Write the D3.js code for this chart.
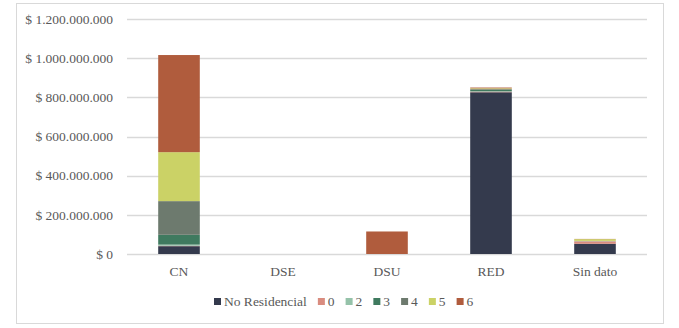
<!doctype html>
<html lang="es">
<head>
    <meta charset="utf-8"/>
    <title>Stacked bars</title>
    <script src="https://d3js.org/d3.v7.min.js"></script>
    <style>
        body { margin: 0; padding: 0; background: #fff; }
    </style>
</head>
<body>
<script>
    // categorias del eje x
    const categories = ['CN', 'DSE', 'DSU', 'RED', 'Sin dato'];
    // series (en millones)
    const seriesNames = ['No Residencial', '0', '2', '3', '4', '5', '6'];
    const noResidencial = [40, 0, 0, 826, 52];
    const s0 = [2, 0, 0, 3, 13];
    const s2 = [6, 0, 0, 2, 2];
    const s3 = [50, 0, 0, 7, 0];
    const s4 = [172, 0, 0, 4, 0];
    const s5 = [250, 0, 0, 4, 9];
    const s6 = [496, 0, 115, 4, 1];
    const colors = ['#343a4d', '#d98c7f', '#95c2a9', '#3f7a5f', '#6d7a6e', '#cbd266', '#b05c3d'];
    const yTicks = [0, 200, 400, 600, 800, 1000, 1200];

    const allSeries = [noResidencial, s0, s2, s3, s4, s5, s6];
    const rows = categories.map(function (c, i) {
        const r = {cat: c};
        seriesNames.forEach(function (k, j) { r[k] = allSeries[j][i]; });
        return r;
    });

    const W = 679, H = 328;
    const m = {left: 127, right: 32, top: 19, bottom: 74};
    const FONT = "'Liberation Serif', serif";

    const svg = d3.select('body').append('svg')
        .attr('width', W).attr('height', H)
        .style('font-family', FONT);

    // borde del grafico
    svg.append('rect')
        .attr('x', 16.5).attr('y', 3.5)
        .attr('width', 647).attr('height', 320)
        .attr('fill', 'none').attr('stroke', '#d9d9d9');

    const x = d3.scaleBand()
        .domain(categories)
        .range([m.left, W - m.right])
        .paddingInner(0.6).paddingOuter(0.3);

    const y = d3.scaleLinear()
        .domain([0, 1200])
        .range([H - m.bottom, m.top]);

    // lineas de cuadricula
    svg.append('g').selectAll('line')
        .data(yTicks)
        .join('line')
        .attr('x1', m.left).attr('x2', W - m.right)
        .attr('y1', d => Math.round(y(d)) + 0.5)
        .attr('y2', d => Math.round(y(d)) + 0.5)
        .attr('stroke', '#d9d9d9').attr('stroke-width', 1.3);

    // etiquetas eje y
    const fmt = function (d) {
        if (d === 0) return '$ 0';
        const s = d3.format(',')(d * 1e6).replace(/,/g, '.');
        return '$ ' + s;
    };
    svg.append('g').selectAll('text')
        .data(yTicks)
        .join('text')
        .attr('x', m.left - 14)
        .attr('y', d => y(d))
        .attr('dy', '0.35em')
        .attr('text-anchor', 'end')
        .attr('fill', '#595959')
        .style('font-size', '13.5px')
        .text(fmt);

    // barras apiladas
    const stacked = d3.stack().keys(seriesNames)(rows);
    svg.append('g').selectAll('g')
        .data(stacked)
        .join('g')
        .attr('fill', (d, i) => colors[i])
        .selectAll('rect')
        .data(d => d)
        .join('rect')
        .attr('x', d => x(d.data.cat))
        .attr('width', x.bandwidth())
        .attr('y', d => y(d[1]))
        .attr('height', d => Math.max(0, y(d[0]) - y(d[1])));

    // etiquetas de categorias
    svg.append('g').selectAll('text')
        .data(categories)
        .join('text')
        .attr('x', d => x(d) + x.bandwidth() / 2)
        .attr('y', 271)
        .attr('dy', '0.35em')
        .attr('text-anchor', 'middle')
        .attr('fill', '#595959')
        .style('font-size', '13.5px')
        .text(d => d);

    // leyenda
    const legend = svg.append('g');
    let lx = 214;
    seriesNames.forEach(function (k, i) {
        legend.append('rect')
            .attr('x', lx).attr('y', 298)
            .attr('width', 7).attr('height', 7)
            .attr('fill', colors[i]);
        const t = legend.append('text')
            .attr('x', lx + 10).attr('y', 301.5)
            .attr('dy', '0.35em')
            .attr('fill', '#595959')
            .style('font-size', '13.5px')
            .text(k);
        lx += 10 + t.node().getComputedTextLength() + 11;
    });
</script>
</body>
</html>
